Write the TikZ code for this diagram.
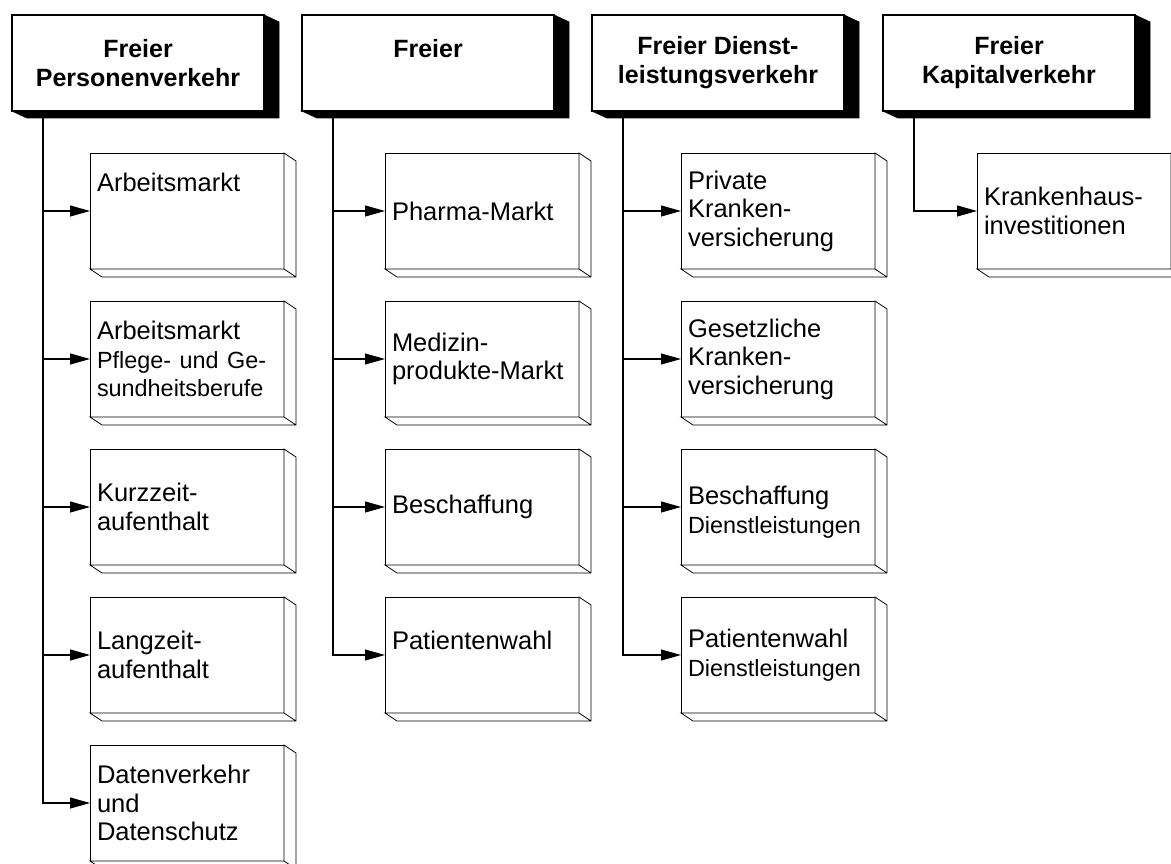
\documentclass[tikz,border=0pt]{standalone}
\usepackage{fontspec}
\setmainfont{Liberation Sans}
\usetikzlibrary{arrows.meta,positioning}
\newcommand{\smalltext}{\fontsize{23.4pt}{28.5pt}\selectfont}

\begin{document}
\begin{tikzpicture}[
    x=1pt, y=-1pt,
    hdr/.style={draw, line width=1.2pt, fill=white, minimum width=252pt, minimum height=96pt, anchor=north west, align=center, outer sep=0pt, font=\bfseries\fontsize{25pt}{29pt}\selectfont},
    item/.style={draw, line width=0.9pt, fill=white, minimum width=194pt, minimum height=116pt, anchor=north west, text width=180pt, inner xsep=7pt, align=left, outer sep=0pt, font=\fontsize{25.5pt}{28.5pt}\selectfont},
    shadow/.style={fill=black, draw=black, line width=0.8pt},
    side/.style={fill=white, draw=black, line width=0.8pt},
    arrow/.style={-{Triangle[length=20pt,width=11pt]}, line width=1.1pt}
]
    \useasboundingbox (0,0) rectangle (1171,864);
    \clip (0,0) rectangle (1171,864);

    % Headers
    \node[hdr] (h1) at (12,15) {Freier\\Personenverkehr};
    \node[hdr] (h2) at (302,15) {Freier\\\mbox{}};
    \node[hdr] (h3) at (592,15) {Freier Dienst-\\leistungsverkehr};
    \node[hdr] (h4) at (883,15) {Freier\\Kapitalverkehr};

    \foreach \n in {h1,h2,h3,h4}
        \draw[shadow] (\n.north east) -- ++(15,7) -- ([shift={(15,7)}]\n.south east)
            -- ([shift={(15,7)}]\n.south west) -- (\n.south west) -- (\n.south east) -- cycle;

    % Column 1
    \node[item] (arbeit) at (90,153) {Arbeitsmarkt\\\mbox{}\\\mbox{}};
    \node[item] (pflege) at (90,301) {Arbeitsmarkt\\{\smalltext Pflege- und Ge-}\\{\smalltext sundheitsberufe}};
    \node[item] (kurz) at (90,449) {Kurzzeit-\\aufenthalt};
    \node[item] (lang) at (90,597) {Langzeit-\\aufenthalt};
    \node[item] (daten) at (90,745) {Datenverkehr\\und\\Datenschutz};

    % Column 2
    \node[item] (pharma) at (385,153) {Pharma-Markt};
    \node[item] (medizin) at (385,301) {Medizin-\\produkte-Markt};
    \node[item] (beschaff) at (385,449) {Beschaffung};
    \node[item] (patient) at (385,597) {Patientenwahl\\\mbox{}};

    % Column 3
    \node[item] (privat) at (681,153) {Private\\Kranken-\\versicherung};
    \node[item] (gesetz) at (681,301) {Gesetzliche\\Kranken-\\versicherung};
    \node[item] (beschaffD) at (681,449) {\mbox{}\\Beschaffung\\{\smalltext Dienstleistungen}};
    \node[item] (patientD) at (681,597) {Patientenwahl\\{\smalltext Dienstleistungen}};

    % Column 4
    \node[item] (invest) at (977,153) {Krankenhaus-\\investitionen};

    \foreach \n in {arbeit,pflege,kurz,lang,daten,pharma,medizin,beschaff,patient,privat,gesetz,beschaffD,patientD,invest}
        \draw[side] (\n.north east) -- ++(12,8) -- ([shift={(12,8)}]\n.south east)
            -- ([shift={(12,8)}]\n.south west) -- (\n.south west) -- (\n.south east) -- cycle
            (\n.south east) -- ++(12,8);

    % Connectors
    \foreach \n in {arbeit,pflege,kurz,lang,daten}
        \draw[arrow] ([xshift=31pt]h1.south west) |- (\n.west);
    \foreach \n in {pharma,medizin,beschaff,patient}
        \draw[arrow] ([xshift=31pt]h2.south west) |- (\n.west);
    \foreach \n in {privat,gesetz,beschaffD,patientD}
        \draw[arrow] ([xshift=31pt]h3.south west) |- (\n.west);
    \draw[arrow] ([xshift=31pt]h4.south west) |- (invest.west);
\end{tikzpicture}
\end{document}
